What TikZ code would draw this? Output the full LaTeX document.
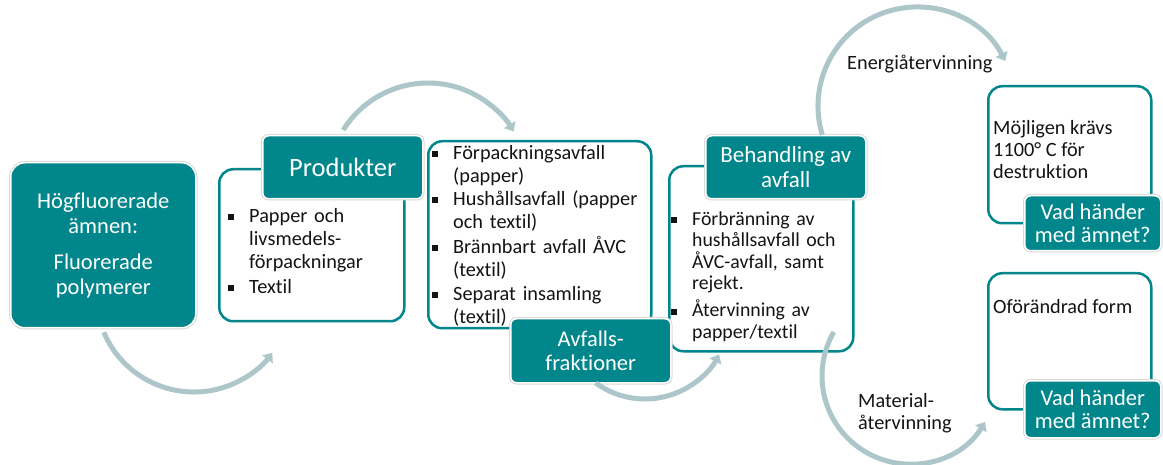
\documentclass[tikz,border=0pt]{standalone}
\usepackage{fontspec}
\setmainfont{Carlito}[Ligatures=NoCommon]
\usetikzlibrary{arrows.meta}
\definecolor{tealA}{RGB}{0,134,139}
\definecolor{flowC}{RGB}{173,198,202}
\definecolor{inkC}{RGB}{20,20,20}
\newcommand\bul{\leavevmode\llap{\rule[2pt]{6pt}{6pt}\hspace{15pt}}}
\tikzset{
  hdr/.style={fill=tealA, draw=white, line width=1.5pt, rounded corners=6pt,
    preaction={draw=black!15, line width=3.5pt},
    text=white, align=center, inner sep=0pt, anchor=north west},
  panel/.style={fill=white, draw=tealA, line width=2.5pt, rounded corners=14pt,
    inner sep=0pt, anchor=north west},
  body/.style={font=\fontsize{20.3}{23}\selectfont, text=inkC, inner sep=0pt,
    anchor=north west, align=left, text width=#1},
  lbl/.style={font=\fontsize{20.3}{22}\selectfont, text=inkC, inner sep=0pt, align=left},
  flow/.style={draw=flowC, line width=5pt, -{Triangle[length=8pt,width=13pt]}},
}
\begin{document}
\begin{tikzpicture}[x=1pt, y=-1pt]
\path[use as bounding box, fill=white] (0,0) rectangle (1163,465);

% source substance
\node[hdr, rounded corners=14pt, minimum width=185, minimum height=165,
  font=\fontsize{22.5}{25}\selectfont] (src) at (10,162)
  {Högfluorerade\\ämnen:\\[11pt]Fluorerade\\polymerer};

% products
\node[panel, minimum width=185, minimum height=152] (prodbox) at (218,168) {};
\node[hdr, minimum width=160, minimum height=63, font=\fontsize{26.5}{28}\selectfont]
  (prod) at (262,135) {Produkter};
\node[body=160] (prod1) at (249,205.9) {\bul\strut Papper och\\livsmedels-\\förpackningar};
\node[body=160] (prod2) at (249,276.9) {\bul\strut Textil};

% waste fractions
\node[panel, minimum width=223, minimum height=187] (wastebox) at (427,140) {};
\node[body=210] (w1) at (453,142.9) {\bul\strut Förpackningsavfall\\(papper)};
\node[body=210] (w2) at (453,188.9) {\bul\strut Hushållsavfall (papper\\och textil)};
\node[body=210] (w3) at (453,235.9) {\bul\strut Brännbart avfall ÅVC\\(textil)};
\node[body=210] (w4) at (453,283.9) {\bul\strut Separat insamling\\(textil)};

% treatment
\node[panel, minimum width=184, minimum height=185] (treatbox) at (668,165) {};
\node[hdr, minimum width=160, minimum height=63, font=\fontsize{23}{25}\selectfont]
  (treat) at (705,135) {Behandling av\\avfall};
\node[body=170, font=\fontsize{19.8}{21.5}\selectfont] (t1) at (692,210)
  {\bul\strut Förbränning av\\hushållsavfall och\\ÅVC-avfall, samt\\rejekt.};
\node[body=170, font=\fontsize{19.8}{21.5}\selectfont] (t2) at (692,300)
  {\bul\strut Återvinning av\\papper/textil};

\node[hdr, minimum width=160, minimum height=64, font=\fontsize{22.5}{23.5}\selectfont]
  (waste) at (510,318) {Avfalls-\\fraktioner};

% outcomes
\node[panel, minimum width=163, minimum height=137] (outA) at (987,85) {};
\node[lbl, anchor=north west] (outAtxt) at (993,118.6) {\strut Möjligen krävs\\1100° C för\\destruktion};
\node[hdr, minimum width=136, minimum height=55, font=\fontsize{22.5}{22.5}\selectfont]
  (qA) at (1024,195) {Vad händer\\med ämnet?};

\node[panel, minimum width=163, minimum height=136] (outB) at (987,272) {};
\node[lbl, anchor=base west] (outBtxt) at (993,313) {Oförändrad form};
\node[hdr, minimum width=136, minimum height=57, font=\fontsize{22.5}{22.5}\selectfont]
  (qB) at (1024,380) {Vad händer\\med ämnet?};

% route labels
\node[lbl, anchor=base west] (eng) at (847,70) {Energiåtervinning};
\node[lbl, anchor=north west] (mat) at (858,391.6) {\strut Material-\\återvinning};

% curved flow arrows
\coordinate (c1) at (194,294);
\coordinate (c2) at (428,183);
\coordinate (c3) at (645,315);
\coordinate (c4) at (917,106);
\coordinate (c5) at (910,376);
\draw[flow] ([shift={(157:98)}]c1) arc[start angle=157, end angle=37, radius=98];
\draw[flow] ([shift={(-148:100)}]c2) arc[start angle=-148, end angle=-31, radius=100];
\draw[flow] ([shift={(126:84)}]c3) arc[start angle=126, end angle=28, radius=84];
\draw[flow] ([shift={(-197:99)}]c4) arc[start angle=-197, end angle=-27, radius=99];
\draw[flow] ([shift={(210:88)}]c5) arc[start angle=210, end angle=31.5, radius=88];
\end{tikzpicture}
\end{document}
